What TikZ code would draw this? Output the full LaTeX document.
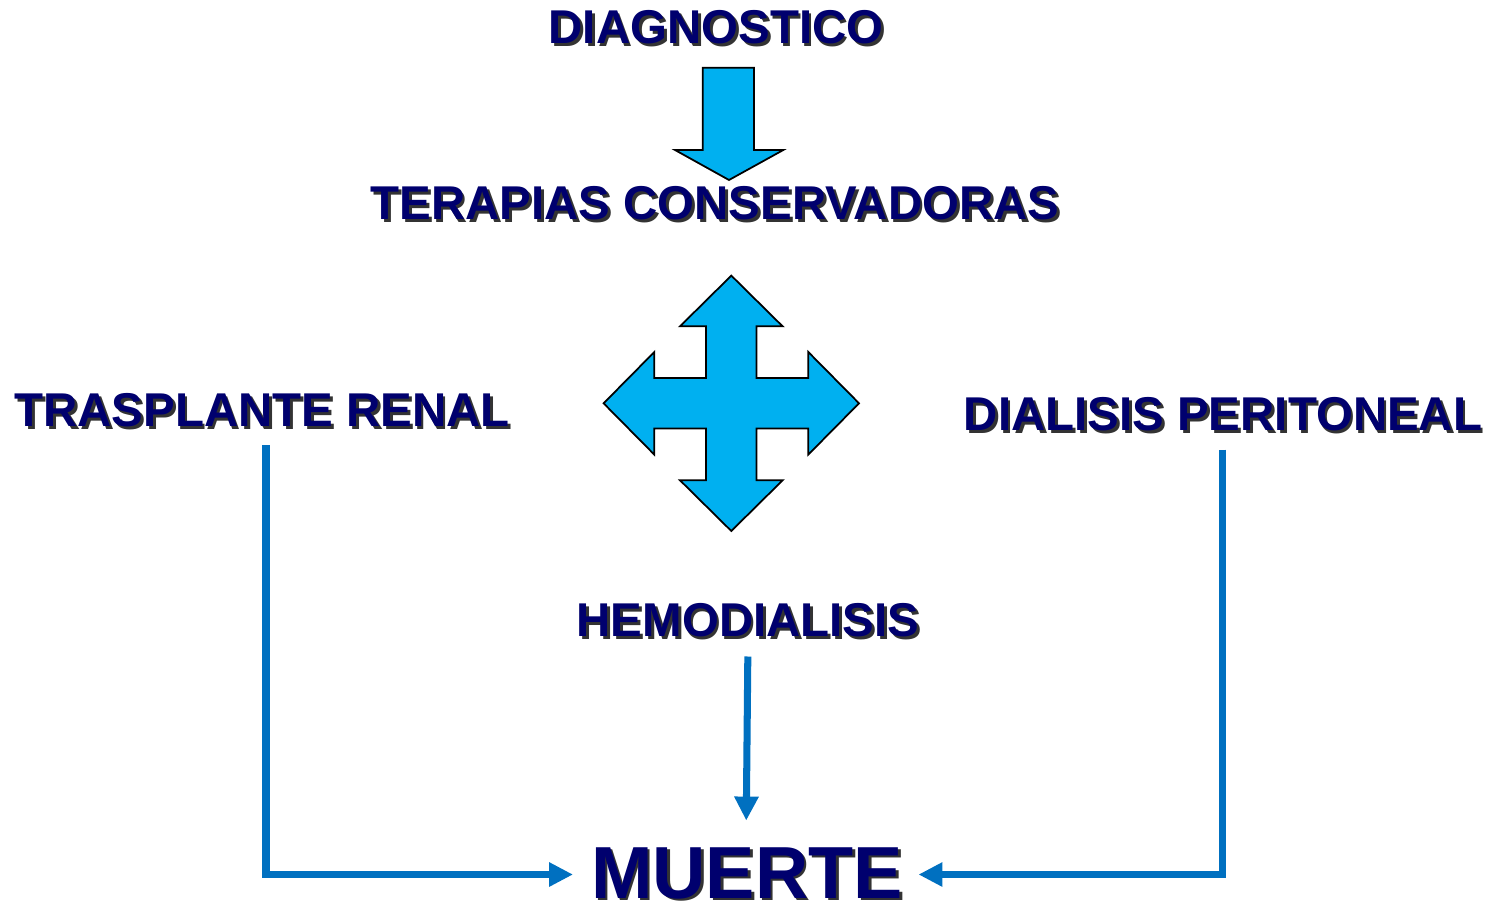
\documentclass[tikz,border=0pt]{standalone}
\usepackage{fontspec}
\setmainfont{Liberation Sans}
\usetikzlibrary{arrows.meta}
\definecolor{navytext}{RGB}{0,0,110}
\definecolor{skyfill}{RGB}{0,176,240}
\definecolor{linkblue}{RGB}{0,112,192}
\begin{document}
\begin{tikzpicture}[x=0.02cm, y=-0.02cm, thick]
  % Define styles
  \tikzstyle{txt} = [inner sep=0pt, text=navytext, font=\fontsize{27}{30}\selectfont\bfseries]
  \tikzstyle{shade} = [inner sep=0pt, text=black, opacity=0.8, xshift=0.055cm, yshift=-0.055cm, font=\fontsize{27}{30}\selectfont\bfseries]
  \tikzstyle{big} = [font=\fontsize{42}{46}\selectfont\bfseries]
  \tikzstyle{fat} = [draw=black, line width=1pt, fill=skyfill, line join=miter]
  \tikzstyle{link} = [draw=linkblue, line width=4pt, -{Triangle[length=0.48cm,width=0.46cm]}]
  \useasboundingbox (0,0) rectangle (1493,910);

  % Shadows
  \node[shade] at (716,27) {DIAGNOSTICO};
  \node[shade] at (715,203) {TERAPIAS CONSERVADORAS};
  \node[shade] at (262,410) {TRASPLANTE RENAL};
  \node[shade] at (1223,414) {DIALISIS PERITONEAL};
  \node[shade] at (748,620) {HEMODIALISIS};
  \node[shade, big] at (747,873) {MUERTE};

  % Labels
  \node[txt] (diag) at (716,27) {DIAGNOSTICO};
  \node[txt] (terap) at (715,203) {TERAPIAS CONSERVADORAS};
  \node[txt] (trasp) at (262,410) {TRASPLANTE RENAL};
  \node[txt] (dperit) at (1223,414) {DIALISIS PERITONEAL};
  \node[txt] (hemo) at (748,620) {HEMODIALISIS};
  \node[txt, big] (muerte) at (747,873) {MUERTE};

  % Block arrow down
  \draw[fat] (702.7,67.7) -- (754,67.7) -- (754,150) -- (783.3,150) -- (729,180)
    -- (675,150) -- (702.7,150) -- cycle;

  % Four way arrow
  \begin{scope}[shift={(731.3,403.3)}]
    \draw[fat] (0,-127.7) -- (51.3,-77) -- (25.3,-77) -- (25.3,-25.3) -- (77,-25.3)
      -- (77,-51.3) -- (127.7,0) -- (77,51.3) -- (77,25.3) -- (25.3,25.3)
      -- (25.3,77) -- (51.3,77) -- (0,127.7) -- (-51.3,77) -- (-25.3,77)
      -- (-25.3,25.3) -- (-77,25.3) -- (-77,51.3) -- (-127.7,0) -- (-77,-51.3)
      -- (-77,-25.3) -- (-25.3,-25.3) -- (-25.3,-77) -- (-51.3,-77) -- cycle;
  \end{scope}

  % Arrows to MUERTE
  \draw[link, shorten <=0.38cm, shorten >=0.35cm] ([xshift=0.08cm, yshift=0.03cm]trasp.south) |- ([yshift=-0.03cm]muerte.west);
  \draw[link, shorten <=0.36cm, shorten >=0.3cm] ([xshift=-0.02cm]dperit.south) |- ([yshift=-0.03cm]muerte.east);
  \draw[link, shorten <=0.38cm, shorten >=0.52cm] (hemo.south) -- ([xshift=-0.02cm]muerte.north);

\end{tikzpicture}
\end{document}
